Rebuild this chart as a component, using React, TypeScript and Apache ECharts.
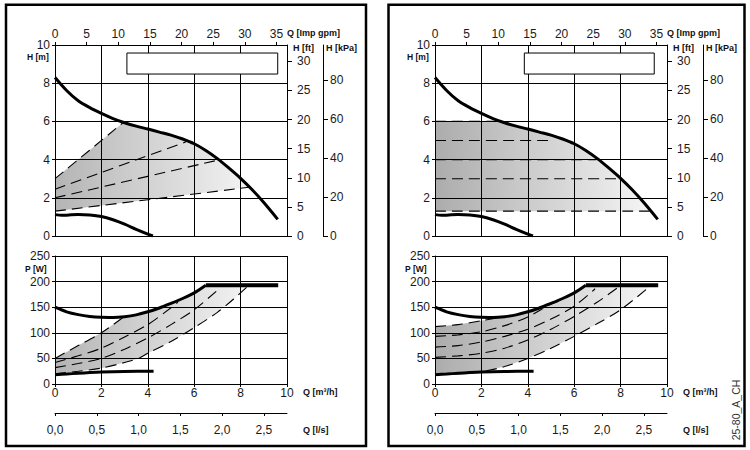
import React, { useEffect, useRef } from 'react';
import * as echarts from 'echarts';

// ---------- tick labels ----------
const flowTicks = [0, 2, 4, 6, 8, 10];
const gpmTicks = [0, 5, 10, 15, 20, 25, 30, 35];
const ftTicks = [0, 5, 10, 15, 20, 25, 30];
const kpaTicks = [0, 20, 40, 60, 80];
const lsTicks = [0, 0.5, 1, 1.5, 2, 2.5];

// unit conversions for secondary axes (full range = 10 m3/h, 10 m)
const GPM_MAX = (10 * 1000) / 4.54609 / 60;
const LS_MAX = 10 / 3.6;
const FT_MAX = 10 / 0.3048;
const KPA_MAX = 10 * 9.80665;

// ---------- head curves (Q [m3/h], H [m]) ----------
const maxHead = [
  [0, 8.3], [0.5, 7.62], [1, 7.08], [1.5, 6.72], [2, 6.42], [2.5, 6.15], [3, 5.93],
  [3.5, 5.75], [4, 5.6], [4.5, 5.44], [5, 5.28], [5.5, 5.08], [6, 4.83], [6.5, 4.48],
  [7, 4.05], [7.5, 3.55], [8, 3.02], [8.5, 2.42], [9, 1.75], [9.6, 0.87],
];
const minHead = [
  [0, 1.12], [0.3, 1.08], [0.6, 1.1], [1, 1.12], [1.5, 1.1], [2, 1.02], [2.5, 0.85],
  [3, 0.62], [3.5, 0.35], [4, 0.1], [4.22, 0],
];
// proportional pressure curves (left)
const ppHead1 = [[0, 3.0], [2.93, 5.93]];
const ppHead2 = [[0, 2.45], [5.65, 4.93]];
const ppHead3 = [[0, 2.0], [7.05, 3.98]];
const ppHead4 = [[0, 1.3], [8.35, 2.55]];
// constant pressure curves (right)
const cpHead1 = [[0, 6], [2.85, 6]];
const cpHead2 = [[0, 5], [5.1, 5]];
const cpHead3 = [[0, 4], [6.95, 4]];
const cpHead4 = [[0, 3], [7.9, 3]];
const cpHead5 = [[0, 1.3], [9.25, 1.3]];

// ---------- power curves (Q [m3/h], P [W]) ----------
const maxPower = [
  [0, 150], [0.5, 141], [1, 135.5], [1.5, 132], [2, 130.3], [2.5, 130], [3, 131.5],
  [3.5, 135], [4, 141], [4.5, 148.5], [5, 157.5], [5.5, 167], [6, 178], [6.5, 193],
];
const maxPowerFlat = [[6.5, 193], [9.62, 193]];
const minPower = [[0, 18], [0.5, 19.5], [1, 21], [1.5, 22.3], [2, 23.3], [3, 24.5], [4.25, 25]];
// proportional pressure power (left)
const ppPow1 = [[0, 50], [1, 75], [2, 100], [2.9, 129]];
const ppPow2 = [[0, 42], [1, 55], [2, 70], [3, 92], [4, 116], [5, 149], [5.3, 160]];
const ppPow3 = [[0, 32], [1, 40], [2, 50], [3, 68], [4, 90], [5, 116], [6, 145], [7, 183], [7.1, 187]];
const ppPow4 = [[0, 20], [1, 25], [2, 31], [3, 42], [3.6, 50], [4, 60], [5, 83], [6, 110], [7, 140], [7.7, 166], [8.33, 192]];
// constant pressure power (right)
const cpPow1 = [[0, 112], [1, 116], [2, 123.5], [3, 132]];
const cpPow2 = [[0, 93], [1, 96], [2, 102], [3, 114], [4, 131], [5, 156], [5.35, 162]];
const cpPow3 = [[0, 72], [1, 75], [2, 82], [3, 93], [4, 107], [5, 127], [6, 152], [6.9, 186]];
const cpPow4 = [[0, 52], [1, 55], [2, 60], [3, 70], [4, 86], [5, 107], [6, 132], [7, 160], [7.9, 189]];
const cpPow5 = [[0, 18], [1, 20], [2, 24], [3, 34], [4, 50], [5, 70], [6, 93], [7, 118], [8, 145], [9.3, 192]];

// legend placeholder boxes (data coords)
const legendBoxLeft = [[3.1, 9.58], [9.6, 8.48]];
const legendBoxRight = [[3.85, 9.58], [9.45, 8.48]];

const FONT = "'Liberation Sans', Arial, sans-serif";
const BLACK = { color: '#000', width: 1 };

function crossX(curve: number[][], y: number) {
  for (let i = 0; i < curve.length - 1; i++) {
    const [x0, y0] = curve[i];
    const [x1, y1] = curve[i + 1];
    if ((y0 - y) * (y1 - y) <= 0 && y0 !== y1) return x0 + ((y - y0) / (y1 - y0)) * (x1 - x0);
  }
  return curve[curve.length - 1][0];
}
const between = (c: number[][], a: number, b: number) => c.filter((p) => p[0] > a && p[0] < b);

const labelStyle = (extra: any = {}) => ({ fontFamily: FONT, fontSize: 12, lineHeight: 10, color: '#1a1a1a', ...extra });

function headAxes(g: number) {
  const x = [
    {
      gridIndex: g, type: 'value', min: 0, max: 10, interval: 2, position: 'bottom', z: 3,
      axisLine: { show: true, onZero: false, lineStyle: BLACK }, axisTick: { show: false },
      axisLabel: { show: false }, splitLine: { show: true, lineStyle: BLACK },
    },
    {
      gridIndex: g, type: 'value', min: 0, max: GPM_MAX, position: 'top', z: 3,
      axisLine: { show: true, onZero: false, lineStyle: BLACK },
      axisTick: { show: true, length: 3, lineStyle: BLACK, customValues: gpmTicks },
      axisLabel: labelStyle({ margin: 6, customValues: gpmTicks, formatter: (v: number) => String(Math.round(v)) }),
      splitLine: { show: false },
    },
  ];
  const y = [
    {
      gridIndex: g, type: 'value', min: 0, max: 10, interval: 2, position: 'left', z: 3,
      axisLine: { show: true, onZero: false, lineStyle: BLACK },
      axisTick: { show: true, length: 3, lineStyle: BLACK },
      axisLabel: labelStyle({ margin: 5 }), splitLine: { show: true, lineStyle: BLACK },
    },
    {
      gridIndex: g, type: 'value', min: 0, max: FT_MAX, position: 'right', z: 3,
      axisLine: { show: true, onZero: false, lineStyle: BLACK },
      axisTick: { show: true, length: 5, lineStyle: BLACK, customValues: ftTicks },
      axisLabel: labelStyle({ margin: 10, customValues: ftTicks, formatter: (v: number) => String(Math.round(v)) }),
      splitLine: { show: false },
    },
    {
      gridIndex: g, type: 'value', min: 0, max: KPA_MAX, position: 'right', offset: 36, z: 3,
      axisLine: { show: true, onZero: false, lineStyle: BLACK },
      axisTick: { show: true, length: 5, lineStyle: BLACK, customValues: kpaTicks },
      axisLabel: labelStyle({ margin: 7, customValues: kpaTicks, formatter: (v: number) => String(Math.round(v)) }),
      splitLine: { show: false },
    },
  ];
  return { x, y };
}

function powerAxes(g: number) {
  const x = [
    {
      gridIndex: g, type: 'value', min: 0, max: 10, interval: 2, position: 'bottom', z: 3,
      axisLine: { show: true, onZero: false, lineStyle: BLACK },
      axisTick: { show: true, length: 3, lineStyle: BLACK },
      axisLabel: labelStyle({ margin: 4 }), splitLine: { show: true, lineStyle: BLACK },
    },
    {
      gridIndex: g, type: 'value', min: 0, max: LS_MAX, position: 'bottom', offset: 29, z: 3,
      axisLine: { show: true, onZero: false, lineStyle: BLACK },
      axisTick: { show: true, length: 3, lineStyle: BLACK, customValues: lsTicks },
      axisLabel: labelStyle({ margin: 12, customValues: lsTicks, formatter: (v: number) => v.toFixed(1).replace('.', ',') }),
      splitLine: { show: false },
    },
  ];
  const y = [
    {
      gridIndex: g, type: 'value', min: 0, max: 250, interval: 50, position: 'left', z: 3,
      axisLine: { show: true, onZero: false, lineStyle: BLACK },
      axisTick: { show: true, length: 3, lineStyle: BLACK },
      axisLabel: labelStyle({ margin: 5 }), splitLine: { show: true, lineStyle: BLACK },
    },
  ];
  return { x, y };
}

function lineS(xi: number, yi: number, data: number[][], width: number, dashed = false) {
  return {
    type: 'line', xAxisIndex: xi, yAxisIndex: yi, data, symbol: 'none', smooth: 0.3, silent: true, z: 4,
    lineStyle: { color: '#000', width, type: dashed ? [11, 6] : 'solid', cap: 'butt' },
  };
}

function shade(xi: number, yi: number, pts: number[][], c0: string, c1: string) {
  return {
    type: 'custom', xAxisIndex: xi, yAxisIndex: yi, z: 1, silent: true, data: [[0, 0]],
    renderItem: (_p: any, api: any) => ({
      type: 'polygon',
      shape: { points: pts.map((p) => api.coord(p)) },
      style: {
        fill: new echarts.graphic.LinearGradient(0, 0, 1, 0, [
          { offset: 0, color: c0 }, { offset: 1, color: c1 },
        ]),
      },
    }),
  };
}

function box(xi: number, yi: number, corners: number[][]) {
  return {
    type: 'custom', xAxisIndex: xi, yAxisIndex: yi, z: 10, silent: true, data: [[0, 0]],
    renderItem: (_p: any, api: any) => {
      const a = api.coord(corners[0]);
      const b = api.coord(corners[1]);
      return {
        type: 'rect',
        shape: { x: a[0], y: a[1], width: b[0] - a[0], height: b[1] - a[1] },
        style: { fill: '#fff', stroke: '#000', lineWidth: 1 },
      };
    },
  };
}

function txt(text: string, x: number, y: number, size = 9, bold = true) {
  return {
    type: 'text', x, y, z: 20, silent: true,
    style: {
      text, fill: '#111', fontFamily: FONT, fontSize: size, fontWeight: bold ? 'bold' : 'normal',
      lineHeight: size, align: 'left', verticalAlign: 'middle', textAlign: 'left', textVerticalAlign: 'middle',
    },
  };
}

export default function App() {
  const ref = useRef<HTMLDivElement>(null);
  useEffect(() => {
    if (!ref.current) return;
    const chart = echarts.init(ref.current, undefined, { renderer: 'svg' });

    const grids = [
      { left: 55, top: 45, width: 232, height: 191 },
      { left: 55, top: 256, width: 232, height: 128 },
      { left: 435, top: 45, width: 232, height: 191 },
      { left: 435, top: 256, width: 232, height: 128 },
    ];
    const h0 = headAxes(0);
    const p1 = powerAxes(1);
    const h2 = headAxes(2);
    const p3 = powerAxes(3);
    const xAxis = [...h0.x, ...p1.x, ...h2.x, ...p3.x];
    const yAxis = [...h0.y, ...p1.y, ...h2.y, ...p3.y];

    // shaded regions
    const ltPoly = [
      ppHead4[0], ppHead1[0], ppHead1[1],
      ...between(maxHead, ppHead1[1][0], ppHead4[1][0]), ppHead4[1],
    ];
    const topLvl = cpHead1[0][1];
    const botLvl = cpHead5[0][1];
    const xTop = crossX(maxHead, topLvl);
    const xBot = crossX(maxHead, botLvl);
    const rtPoly = [[0, botLvl], [0, topLvl], [xTop, topLvl], ...between(maxHead, xTop, xBot), [xBot, botLvl]];
    const flatLvl = maxPowerFlat[0][1];
    const lbEnd = ppPow4[ppPow4.length - 1];
    const lbPoly = [
      ...ppPow1, ...between(maxPower, ppPow1[ppPow1.length - 1][0], 7), [lbEnd[0], flatLvl],
      ...ppPow4.slice().reverse(),
    ];
    const rbEnd = cpPow5[cpPow5.length - 1];
    const rbPoly = [
      ...cpPow1, ...between(maxPower, cpPow1[cpPow1.length - 1][0], 7), [rbEnd[0], flatLvl],
      ...cpPow5.slice().reverse(),
    ];

    const series: any[] = [
      shade(0, 0, ltPoly, '#b4b4b4', '#f3f3f3'),
      lineS(0, 0, ppHead1, 1.1, true), lineS(0, 0, ppHead2, 1.1, true),
      lineS(0, 0, ppHead3, 1.1, true), lineS(0, 0, ppHead4, 1.1, true),
      lineS(0, 0, maxHead, 3), lineS(0, 0, minHead, 3),
      box(0, 0, legendBoxLeft),
      shade(2, 3, lbPoly, '#b4b4b4', '#f3f3f3'),
      lineS(2, 3, ppPow1, 1.1, true), lineS(2, 3, ppPow2, 1.1, true),
      lineS(2, 3, ppPow3, 1.1, true), lineS(2, 3, ppPow4, 1.1, true),
      lineS(2, 3, maxPower, 3), lineS(2, 3, maxPowerFlat, 4), lineS(2, 3, minPower, 3),
      shade(4, 4, rtPoly, '#acacac', '#f5f5f5'),
      lineS(4, 4, cpHead1, 1.1, true), lineS(4, 4, cpHead2, 1.1, true), lineS(4, 4, cpHead3, 1.1, true),
      lineS(4, 4, cpHead4, 1.1, true), lineS(4, 4, cpHead5, 1.1, true),
      lineS(4, 4, maxHead, 3), lineS(4, 4, minHead, 3),
      box(4, 4, legendBoxRight),
      shade(6, 7, rbPoly, '#acacac', '#f5f5f5'),
      lineS(6, 7, cpPow1, 1.1, true), lineS(6, 7, cpPow2, 1.1, true), lineS(6, 7, cpPow3, 1.1, true),
      lineS(6, 7, cpPow4, 1.1, true), lineS(6, 7, cpPow5, 1.1, true),
      lineS(6, 7, maxPower, 3), lineS(6, 7, maxPowerFlat, 4), lineS(6, 7, minPower, 3),
    ];

    const graphic: any[] = [
      { type: 'rect', shape: { x: 6, y: 4.7, width: 360, height: 441.3 }, style: { fill: 'none', stroke: '#000', lineWidth: 2.5 }, z: 20, silent: true },
      { type: 'rect', shape: { x: 388.5, y: 4.7, width: 356, height: 441.3 }, style: { fill: 'none', stroke: '#000', lineWidth: 2.5 }, z: 20, silent: true },
      {
        type: 'text', x: 736, y: 410, rotation: Math.PI / 2, z: 20, silent: true,
        style: { text: '25-80_A_CH', fill: '#333', fontFamily: FONT, fontSize: 10.5, align: 'center', verticalAlign: 'middle', textAlign: 'center', textVerticalAlign: 'middle' },
      },
    ];
    [0, 380].forEach((dx) => {
      graphic.push(
        txt('H [m]', 27 + dx, 57, 8.5),
        txt('Q [Imp gpm]', 287 + dx, 33),
        txt('H [ft]', 293 + dx, 47.5),
        txt('H [kPa]', 326 + dx, 47.5),
        txt('P [W]', 25 + dx, 268.5, 8.5),
        txt('Q [m³/h]', 303 + dx, 392),
        txt('Q [l/s]', 303 + dx, 430),
      );
    });

    chart.setOption({
      animation: false,
      backgroundColor: '#fff',
      grid: grids,
      xAxis,
      yAxis,
      series,
      graphic,
    });
    return () => chart.dispose();
  }, []);

  return (
    <div
      ref={ref}
      style={{ position: 'fixed', left: 0, top: 0, width: 750, height: 450, background: '#fff' }}
    />
  );
}
